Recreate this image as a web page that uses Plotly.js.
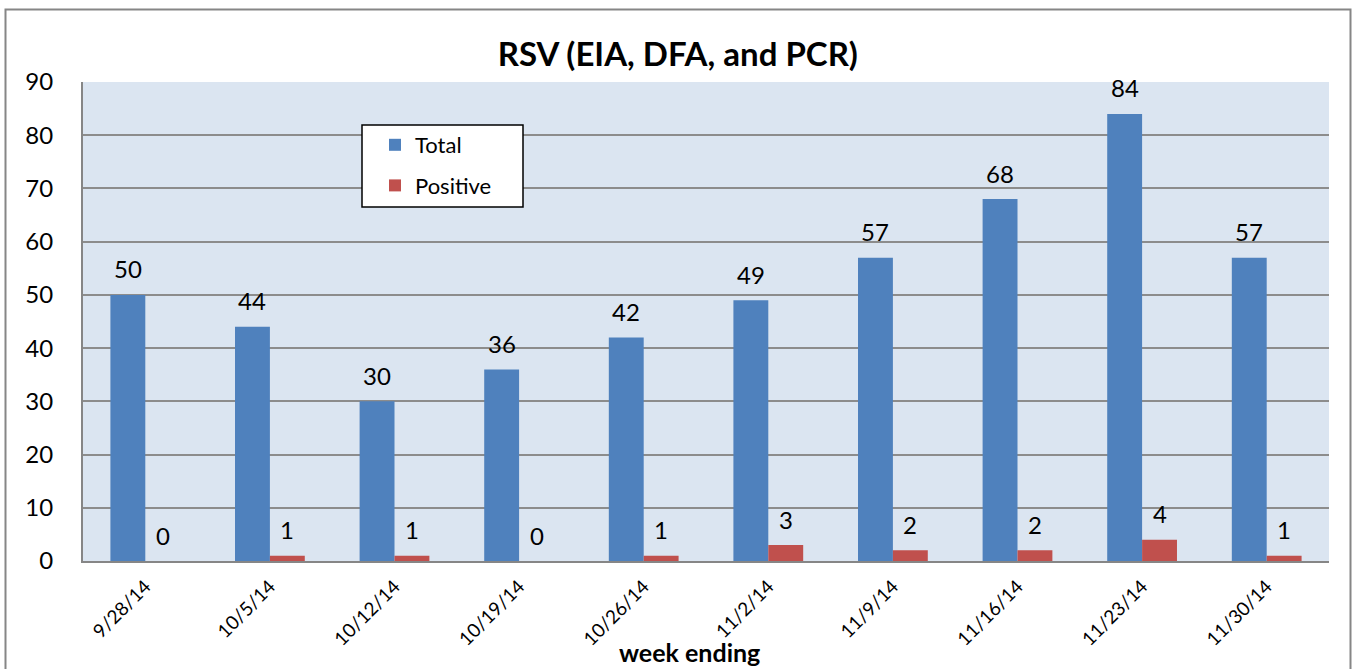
<!DOCTYPE html>
<html>
<head>
<meta charset="utf-8">
<script src="https://cdn.plot.ly/plotly-3.0.1.min.js"></script>
<style>html,body{margin:0;padding:0;background:#fff;}#chart{width:1353px;height:669px;}</style>
</head>
<body>
<div id="chart"></div>
<script>
const weeks = ["9/28/14","10/5/14","10/12/14","10/19/14","10/26/14","11/2/14","11/9/14","11/16/14","11/23/14","11/30/14"];
const totalValues = [50,44,30,36,42,49,57,68,84,57];
const positiveValues = [0,1,1,0,1,3,2,2,4,1];
const seriesNames = ["Total","Positive"];
const yTicks = [0,10,20,30,40,50,60,70,80,90];

const FONT = "Lato, 'Liberation Sans', sans-serif";
const BLUE = "#4f81bd", RED = "#c0504d";

const traces = [
  {type:"bar", name:seriesNames[0], x:weeks, y:totalValues, marker:{color:BLUE, line:{width:0}}, legendgroup:"a", hoverinfo:"x+y"},
  {type:"bar", name:seriesNames[1], x:weeks, y:positiveValues, marker:{color:RED, line:{width:0}}, legendgroup:"b", hoverinfo:"x+y"}
];

const annotations = [];
weeks.forEach((w,i)=>{
  annotations.push({x:w, y:totalValues[i], xref:"x", yref:"y", text:String(totalValues[i]), showarrow:false, xshift:-17.5, yshift:26, yanchor:"middle", font:{family:FONT, size:24, color:"#000"}});
  annotations.push({x:w, y:positiveValues[i], xref:"x", yref:"y", text:String(positiveValues[i]), showarrow:false, xshift:17.5, yshift:26, yanchor:"middle", font:{family:FONT, size:24, color:"#000"}});
});
annotations.push({x:0.487, y:-0.190, xref:"paper", yref:"paper", text:"<b>week ending</b>", showarrow:false, yanchor:"middle", font:{family:FONT, size:25, color:"#000"}});

// plot area: left 83, right 1329, top 82, bottom 561
const W = 1246, H = 479;
const px = v => (v-83)/W;
const py = v => (561-v)/H;

const layout = {
  width:1353, height:669,
  margin:{l:83, r:24, t:82, b:108},
  paper_bgcolor:"#ffffff",
  plot_bgcolor:"#dbe5f1",
  font:{family:FONT, color:"#000"},
  title:{text:"<b>RSV (EIA, DFA, and PCR)</b>", font:{family:FONT, size:33, color:"#000"}, x:0.501, xanchor:"center", y:0.918, yanchor:"middle"},
  barmode:"group",
  bargap:0.44,
  bargroupgap:0,
  showlegend:true,
  legend:{x:px(375), y:py(124), xanchor:"left", yanchor:"top", bgcolor:"rgba(0,0,0,0)", borderwidth:0, font:{family:FONT, size:22, color:"#000"}, traceorder:"grouped", tracegroupgap:9, itemclick:false},
  xaxis:{type:"category", tickangle:-45, tickfont:{family:FONT, size:19, color:"#000"}, showgrid:false, showline:true, linecolor:"#868686", linewidth:2, ticks:"", ticklabelstandoff:5, zeroline:false, fixedrange:true},
  yaxis:{range:[0,90], tickvals:yTicks, ticktext:yTicks.map(String), tickfont:{family:FONT, size:24, color:"#000"}, showgrid:true, gridcolor:"#8c8c8c", gridwidth:1.5, showline:true, linecolor:"#868686", linewidth:2, ticks:"", ticklabelstandoff:23, zeroline:false, fixedrange:true},
  annotations:annotations,
  shapes:[
    {type:"rect", xref:"paper", yref:"paper", x0:px(362), x1:px(523), y0:py(207), y1:py(125), fillcolor:"#ffffff", line:{color:"#000", width:1.5}, layer:"above"},
    {type:"rect", xref:"paper", yref:"paper", x0:px(5.5), x1:px(1350.5), y0:py(690), y1:py(9.5), fillcolor:"rgba(0,0,0,0)", line:{color:"#868686", width:2}, layer:"below"}
  ]
};

Plotly.newPlot("chart", traces, layout, {displayModeBar:false, staticPlot:false});
</script>
</body>
</html>
